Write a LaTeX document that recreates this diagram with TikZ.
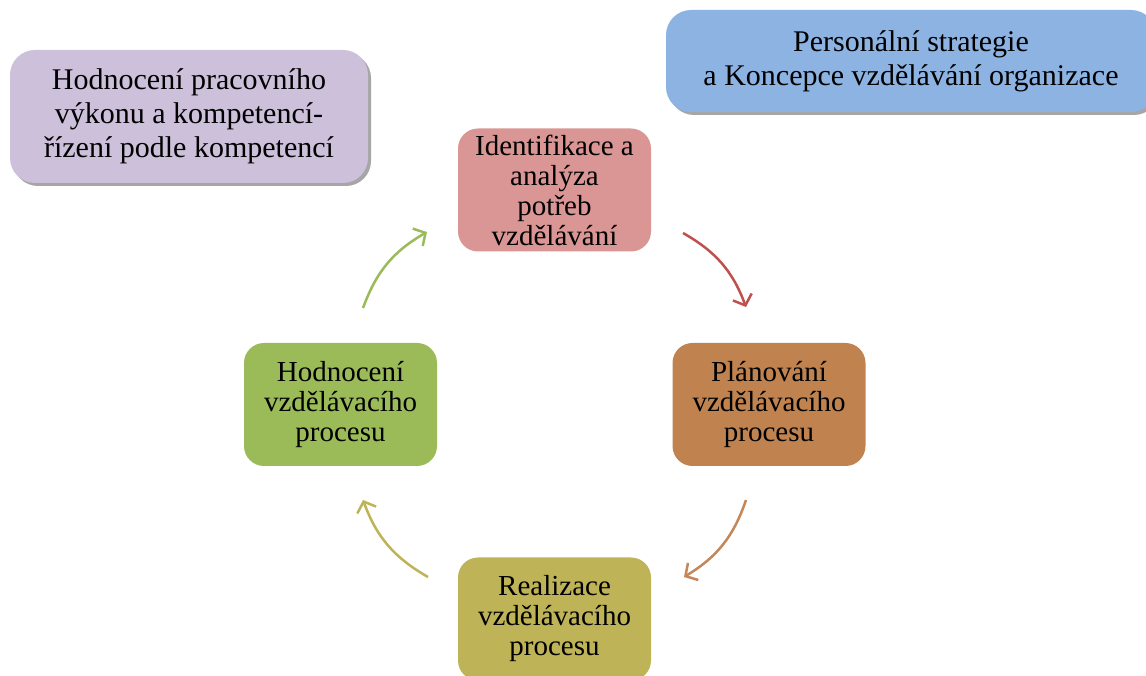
\documentclass[tikz,border=0pt]{standalone}
\usepackage{fontspec}
\setmainfont{Liberation Serif}
\usetikzlibrary{positioning,arrows.meta,shadows}
\definecolor{cPurple}{HTML}{CCC0DA}
\definecolor{cBlue}{HTML}{8DB3E2}
\definecolor{cRed}{HTML}{D99694}
\definecolor{cOrange}{HTML}{C0834F}
\definecolor{cGreen}{HTML}{9BBB59}
\definecolor{cOlive}{HTML}{BEB356}
\definecolor{aRed}{HTML}{C0504D}
\definecolor{aOrange}{HTML}{C4875A}
\tikzstyle{phase} = [rounded corners=20pt, minimum width=193pt, minimum height=123pt, inner sep=0pt, align=center, font=\fontsize{29}{30}\selectfont]
\tikzstyle{frame} = [phase, rounded corners=25pt, font=\fontsize{30}{34}\selectfont, drop shadow={shadow xshift=3pt, shadow yshift=-3pt, fill=gray!70, opacity=1}]
\tikzstyle{cycle} = [line width=2.5pt, -{Straight Barb[length=9pt,width=20pt]}]

\begin{document}
\begin{tikzpicture}[x=1pt, y=1pt]
			\useasboundingbox (0,0) rectangle (1146,675);
			\node[frame, fill=cPurple, minimum width=358pt, minimum height=133pt] (eval) at (189, 558.5) {Hodnocení pracovního\\výkonu a kompetencí-\\řízení podle kompetencí};
			\node[frame, fill=cBlue, minimum width=490pt, minimum height=102pt] (strat) at (911, 614) {Personální strategie\\a Koncepce vzdělávání organizace};
			\node[phase, fill=cRed] (ident) at (554.5, 485) {Identifikace a\\analýza\\potřeb\\vzdělávání};
			\node[phase, fill=cOrange] (plan) at (769, 270.5) {Plánování\\vzdělávacího\\procesu};
			\node[phase, fill=cGreen] (assess) at (340.5, 270.5) {Hodnocení\\vzdělávacího\\procesu};
			\node[phase, fill=cOlive] (real) at (554.5, 56) {Realizace\\vzdělávacího\\procesu};
			\coordinate (r1) at (683, 442);
			\coordinate (r2) at (746, 368);
			\coordinate (o1) at (746, 175);
			\coordinate (o2) at (684, 98);
			\coordinate (l1) at (428, 98);
			\coordinate (l2) at (363, 175);
			\coordinate (g1) at (363, 367);
			\coordinate (g2) at (427, 443);
			\draw[cycle, aRed] (r1) to[bend left=20] (r2);
			\draw[cycle, aOrange] (o1) to[bend left=20] (o2);
			\draw[cycle, cOlive] (l1) to[bend left=20] (l2);
			\draw[cycle, cGreen] (g1) to[bend left=20] (g2);
		\end{tikzpicture}
\end{document}
